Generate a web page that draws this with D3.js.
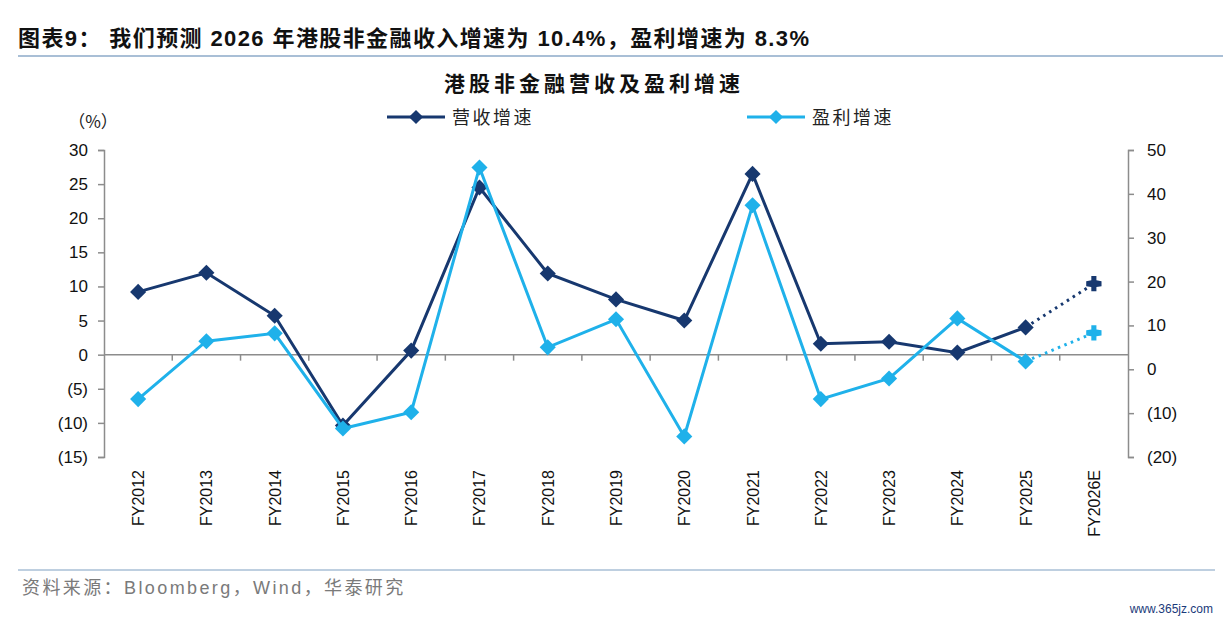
<!DOCTYPE html>
<html lang="zh">
  <head>
    <meta charset="utf-8" />
    <title>港股非金融营收及盈利增速</title>
    <script src="https://d3js.org/d3.v7.min.js"></script>
    <style>
      body { margin: 0; background: #fff; }
      text { font-family: "Liberation Sans", Arial, "Noto Sans CJK SC", sans-serif; }
      .cjk { font-family: "Noto Sans CJK SC", sans-serif; }
    </style>
  </head>
  <body>
    <svg width="1223" height="624"></svg>
    <script>
      const years = ["FY2012", "FY2013", "FY2014", "FY2015", "FY2016", "FY2017", "FY2018",
        "FY2019", "FY2020", "FY2021", "FY2022", "FY2023", "FY2024", "FY2025", "FY2026E"];
      const revenueGrowth = [9.2, 12.0, 5.7, -10.4, 0.6, 24.5, 11.9, 8.1, 5.0, 26.5, 1.6, 1.9, 0.3, 4.0, 10.4];
      const profitGrowth = [-6.8, 6.4, 8.2, -13.5, -9.8, 46.0, 5.0, 11.4, -15.3, 37.4, -6.8, -2.1, 11.6, 1.8, 8.3];
      const leftTicks = [30, 25, 20, 15, 10, 5, 0, -5, -10, -15];
      const rightTicks = [50, 40, 30, 20, 10, 0, -10, -20];

      const navy = "#17386f", cyan = "#1fb1ea", grey = "#8c8c8c";
      const svg = d3.select("svg");
      const fmt = (v) => (v < 0 ? "(" + Math.abs(v) + ")" : String(v));

      const x = d3.scaleBand().domain(years).range([104, 1128]);
      const yL = d3.scaleLinear().domain([-15, 30]).range([457, 150]);
      const yR = d3.scaleLinear().domain([-20, 50]).range([457, 150]);

      // header
      svg.append("text").attr("x", 18).attr("y", 46)
        .attr("font-size", 22).attr("font-weight", "bold").attr("fill", "#111")
        .attr("letter-spacing", 1.4)
        .text("图表9：  我们预测 2026 年港股非金融收入增速为 10.4%，盈利增速为 8.3%");
      svg.append("line").attr("x1", 18).attr("x2", 1223).attr("y1", 56).attr("y2", 56)
        .attr("stroke", "#a9bfd6").attr("stroke-width", 2);

      svg.append("text").attr("class", "cjk").attr("x", 594).attr("y", 91)
        .attr("text-anchor", "middle").attr("font-size", 21).attr("font-weight", "bold")
        .attr("letter-spacing", 4).attr("fill", "#111").text("港股非金融营收及盈利增速");

      // legend
      const legend = [{ name: "营收增速", color: navy, x: 387 }, { name: "盈利增速", color: cyan, x: 747 }];
      legend.forEach((l) => {
        svg.append("line").attr("x1", l.x).attr("x2", l.x + 58).attr("y1", 117).attr("y2", 117)
          .attr("stroke", l.color).attr("stroke-width", 3);
        svg.append("path").attr("d", d3.symbol(d3.symbolSquare, 100)())
          .attr("transform", `translate(${l.x + 29},117) rotate(45)`).attr("fill", l.color);
        svg.append("text").attr("class", "cjk").attr("x", l.x + 65).attr("y", 124)
          .attr("font-size", 18).attr("letter-spacing", 2.5).attr("fill", "#222").text(l.name);
      });

      svg.append("text").attr("class", "cjk").attr("x", 93).attr("y", 128)
        .attr("text-anchor", "middle").attr("font-size", 17).attr("fill", "#222").text("（%）");

      // axes
      const axL = svg.append("g").attr("transform", "translate(104,0)")
        .call(d3.axisLeft(yL).tickValues(leftTicks).tickFormat(fmt).tickSize(6).tickPadding(10));
      const axR = svg.append("g").attr("transform", "translate(1128,0)")
        .call(d3.axisRight(yR).tickValues(rightTicks).tickFormat(fmt).tickSize(6).tickPadding(13));
      [axL, axR].forEach((a) => {
        a.select(".domain").attr("stroke", grey).attr("stroke-width", 1.5);
        a.selectAll(".tick line").attr("stroke", grey).attr("stroke-width", 1.5);
        a.selectAll(".tick text").attr("font-size", 17).attr("fill", "#111");
      });

      // zero line with category ticks
      svg.append("line").attr("x1", 104).attr("x2", 1128).attr("y1", yL(0)).attr("y2", yL(0))
        .attr("stroke", grey).attr("stroke-width", 1.5);
      svg.append("g").selectAll("line").data(years.slice(1)).join("line")
        .attr("x1", (d) => x(d)).attr("x2", (d) => x(d))
        .attr("y1", yL(0)).attr("y2", yL(0) + 6)
        .attr("stroke", grey).attr("stroke-width", 1.5);

      // category labels
      svg.append("g").selectAll("text").data(years).join("text")
        .attr("transform", (d) => `translate(${x(d) + x.bandwidth() / 2 + 6},470) rotate(-90)`)
        .attr("text-anchor", "end").attr("font-size", 16).attr("fill", "#111").text((d) => d);

      // series
      const series = [
        { values: revenueGrowth, y: yL, color: navy },
        { values: profitGrowth, y: yR, color: cyan },
      ];
      const cx = (i) => x(years[i]) + x.bandwidth() / 2;
      const marker = d3.symbol(d3.symbolSquare, 130)();
      const forecast = "M-3,-9H3V-4L9,-3V3L3,4V9H-3V4L-9,3V-3L-3,-4Z";
      series.forEach((s) => {
        const pts = s.values.map((v, i) => [cx(i), s.y(v)]);
        const n = pts.length;
        svg.append("path").attr("d", d3.line()(pts.slice(0, n - 1)))
          .attr("fill", "none").attr("stroke", s.color).attr("stroke-width", 3);
        svg.append("path").attr("d", d3.line()(pts.slice(n - 2)))
          .attr("fill", "none").attr("stroke", s.color).attr("stroke-width", 3)
          .attr("stroke-dasharray", "2.5,4.5");
        svg.append("g").selectAll("path").data(pts.slice(0, n - 1)).join("path")
          .attr("d", marker)
          .attr("transform", (p) => `translate(${p[0]},${p[1]}) rotate(45)`).attr("fill", s.color);
        svg.append("path").attr("d", forecast)
          .attr("transform", `translate(${pts[n - 1][0]},${pts[n - 1][1]}) scale(0.85)`)
          .attr("fill", s.color);
      });

      // footer
      svg.append("line").attr("x1", 18).attr("x2", 1215).attr("y1", 570).attr("y2", 570)
        .attr("stroke", "#a9bfd6").attr("stroke-width", 1.5);
      svg.append("text").attr("x", 22).attr("y", 594)
        .attr("font-size", 18).attr("letter-spacing", 2.4).attr("fill", "#7a7a7a")
        .text("资料来源：Bloomberg，Wind，华泰研究");
      svg.append("text").attr("x", 1213).attr("y", 613).attr("text-anchor", "end")
        .attr("font-size", 12).attr("fill", "#1a3a7a").text("www.365jz.com");
    </script>
  </body>
</html>
